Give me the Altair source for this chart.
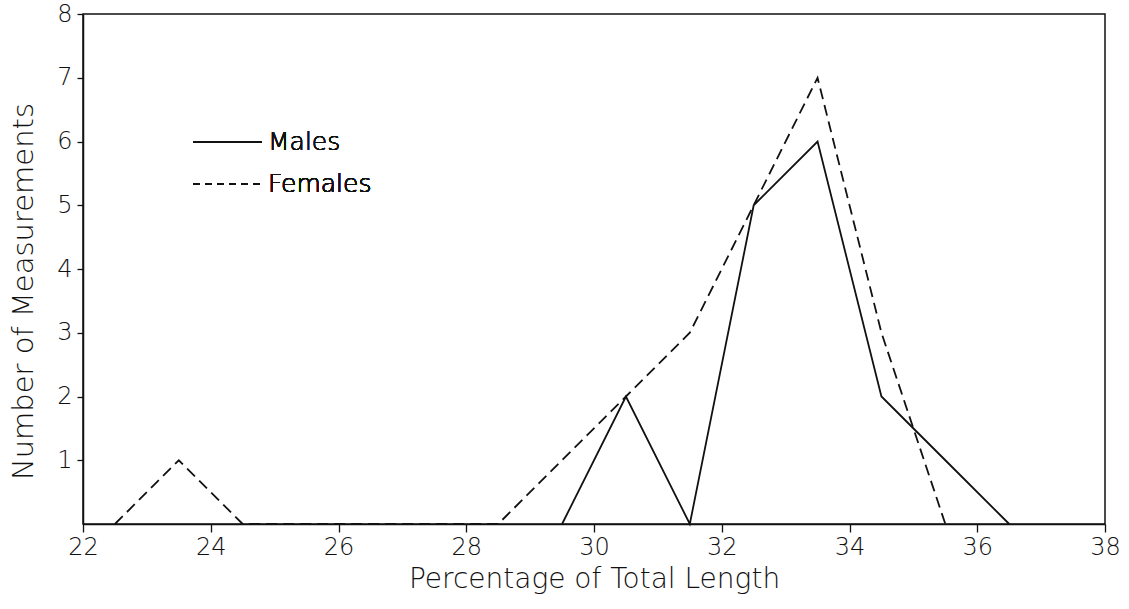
import altair as alt
import pandas as pd

# Length-frequency counts per half-percent class midpoint
male_x = [29.5, 30.5, 31.5, 32.5, 33.5, 34.5, 35.5, 36.5]
male_n = [0, 2, 0, 5, 6, 2, 1, 0]

female_x = [22.5, 23.5, 24.5, 25.5, 26.5, 27.5, 28.5, 29.5, 30.5, 31.5, 32.5, 33.5, 34.5, 35.5]
female_n = [0, 1, 0, 0, 0, 0, 0, 1, 2, 3, 5, 7, 3, 0]

x_ticks = [22, 24, 26, 28, 30, 32, 34, 36, 38]
y_ticks = [1, 2, 3, 4, 5, 6, 7, 8]

series_names = ["Males", "Females"]

FONT = "DejaVu Sans"
WEIGHT = 200
INK = "#111111"
DASH = [11, 6]

males = pd.DataFrame({"pct": male_x, "count": male_n, "sex": series_names[0]})
females = pd.DataFrame({"pct": female_x, "count": female_n, "sex": series_names[1]})

x_enc = alt.X(
    "pct:Q",
    scale=alt.Scale(domain=[22, 38], nice=False, zero=False),
    axis=alt.Axis(
        title="Percentage of Total Length",
        values=x_ticks,
        grid=False,
        labelFlush=False,
        tickSize=8,
        labelPadding=3,
        labelFontSize=24,
        titleFontSize=28,
        titleX=511,
        titleY=63,
        titleBaseline="alphabetic",
        titleAlign="center",
    ),
)
y_enc = alt.Y(
    "count:Q",
    scale=alt.Scale(domain=[0, 8], nice=False),
    axis=alt.Axis(
        title="Number of Measurements",
        values=y_ticks,
        format="d",
        grid=False,
        labelFlush=False,
        tickSize=6,
        labelPadding=5,
        labelFontSize=24,
        titleFontSize=29,
        titleX=-51,
        titleY=277,
        titleAngle=-90,
        titleBaseline="alphabetic",
        titleAlign="center",
    ),
)

male_line = alt.Chart(males).mark_line(color=INK, strokeWidth=1.8).encode(x=x_enc, y=y_enc)
female_line = (
    alt.Chart(females)
    .mark_line(color=INK, strokeWidth=1.8, strokeDash=DASH)
    .encode(x=x_enc, y=y_enc)
)

# Key in the upper-left of the plot
key_solid = alt.Chart(males).mark_rule(color=INK, strokeWidth=1.8).encode(
    x=alt.value(110), x2=alt.value(179), y=alt.value(128)
)
key_dashed = alt.Chart(females).mark_rule(color=INK, strokeWidth=1.8, strokeDash=[7, 5]).encode(
    x=alt.value(110), x2=alt.value(179), y=alt.value(170)
)
key_text_m = alt.Chart(males).mark_text(
    align="left", baseline="middle", fontSize=25, font=FONT, fontWeight=WEIGHT, color=INK
).encode(x=alt.value(185), y=alt.value(128), text=alt.value(series_names[0]))
key_text_f = alt.Chart(females).mark_text(
    align="left", baseline="middle", fontSize=25, font=FONT, fontWeight=WEIGHT, color=INK
).encode(x=alt.value(185), y=alt.value(170), text=alt.value(series_names[1]))

chart = (
    alt.layer(female_line, male_line, key_solid, key_dashed, key_text_m, key_text_f)
    .properties(
        width=1022,
        height=510,
        autosize=alt.AutoSizeParams(type="none"),
        padding={"left": 83, "top": 14, "right": 24, "bottom": 85},
        background="white",
    )
    .configure_view(stroke=INK, strokeWidth=1.5)
    .configure_axis(
        domainColor=INK,
        domainWidth=1.5,
        tickColor=INK,
        tickWidth=1.3,
        labelColor=INK,
        titleColor=INK,
        labelFont=FONT,
        titleFont=FONT,
        labelFontWeight=WEIGHT,
        titleFontWeight=WEIGHT,
    )
)

chart.save("out.html", embed_options={"renderer": "svg", "actions": False})
